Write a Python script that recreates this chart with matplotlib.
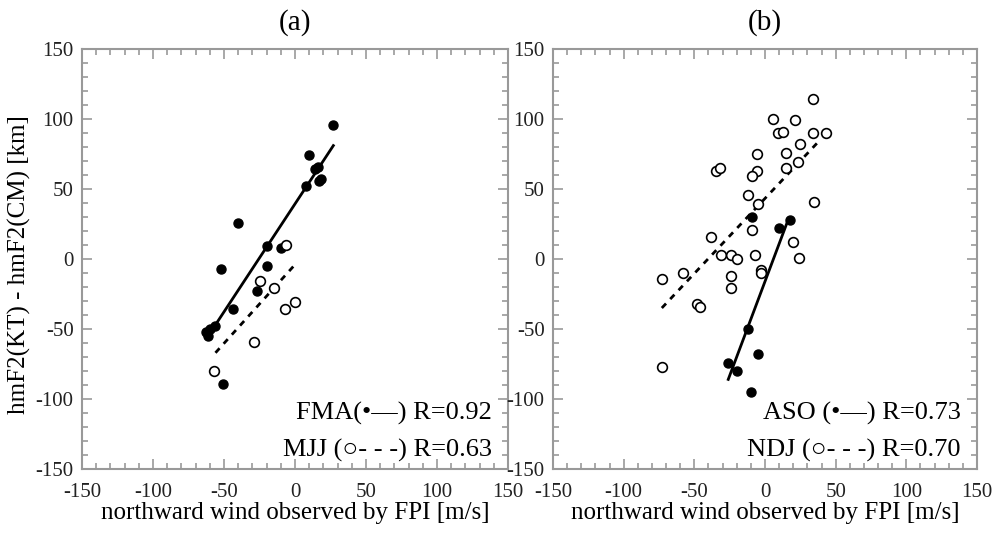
import numpy as np
import matplotlib
matplotlib.use("Agg")
import matplotlib.pyplot as plt
from matplotlib.ticker import MultipleLocator

plt.rcParams['font.family'] = ['Liberation Serif', 'DejaVu Sans']
plt.rcParams['axes.unicode_minus'] = False

# panel (a): FMA (filled) and MJJ (open)
fma_x = [27, 10, 14, 16, 17, 18, 8, -40, -20, -10, -52, -20, -27, -44, -63, -60, -56, -61, -51]
fma_y = [96, 74, 64, 66, 56, 57, 52, 26, 9, 8, -7, -5, -23, -36, -52, -50, -48, -55, -89]
mjj_x = [-6, -25, -15, 0, -7, -29, -57]
mjj_y = [10, -16, -21, -31, -36, -59, -80]

# panel (b): ASO (filled) and NDJ (open)
aso_x = [-9, 18, 10, -12, -5, -26, -20, -10]
aso_y = [30, 28, 22, -50, -68, -74, -80, -95]
ndj_x = [34, 6, 21, 9, 13, 34, 43, 25, -6, 15, -35, -32, -6, -9, 15, 23, -12, -5, 35,
         -9, 20, -38, -31, -24, -20, -7, 24, -3, -3, -58, -73, -24, -24, -48, -46, -73]
ndj_y = [114, 100, 99, 90, 91, 90, 90, 82, 75, 76, 63, 65, 63, 59, 65, 69, 46, 39, 41,
         21, 12, 16, 3, 3, 0, 3, 1, -8, -10, -10, -14, -12, -21, -32, -34, -77]

# regression lines as printed (end points)
fma_fit_x = [-56, 27]
fma_fit_y = [-47, 81]
mjj_fit_x = [-56, 0]
mjj_fit_y = [-67, -4]
aso_fit_x = [-26, 16]
aso_fit_y = [-86, 27]
ndj_fit_x = [-73, 38]
ndj_fit_y = [-35, 84]

labels_a = ["FMA(\u2022\u2014) R=0.92", "MJJ (\u25cb- - -) R=0.63"]
labels_b = ["ASO (\u2022\u2014) R=0.73", "NDJ (\u25cb- - -) R=0.70"]

fig = plt.figure(figsize=(9.92, 5.35), dpi=100)
ax1 = fig.add_axes([82/992, 1-469/535, 426/992, 420/535])
ax2 = fig.add_axes([553/992, 1-469/535, 424/992, 420/535])


def panel(ax, fx, fy, ox, oy, lf, lo, title, labels):
    ax.plot(fx, fy, 'o', ms=6.5, color='black', zorder=3)
    ax.plot(ox, oy, 'o', ms=7, mfc='white', mec='black', mew=1.2, zorder=3)
    ax.plot(lf[0], lf[1], color='black', lw=2.0, zorder=2)
    ax.plot(lo[0], lo[1], color='black', lw=2.0, ls=(0, (2.2, 2.2)), zorder=2)
    ax.set_xlim(-150, 150)
    ax.set_ylim(-150, 150)
    ax.xaxis.set_major_locator(MultipleLocator(50))
    ax.yaxis.set_major_locator(MultipleLocator(50))
    ax.xaxis.set_minor_locator(MultipleLocator(10))
    ax.yaxis.set_minor_locator(MultipleLocator(10))
    ax.tick_params(which='both', direction='in', top=True, right=True,
                   colors='#999999', labelcolor='#222222', labelsize=15, width=1.2)
    ax.tick_params(which='major', length=7, pad=6)
    ax.tick_params(axis='x', which='major', pad=10)
    ax.tick_params(which='minor', length=4)
    for s in ax.spines.values():
        s.set_color('#999999')
        s.set_linewidth(1.5)
    ax.set_title(title, fontsize=21, pad=14)
    ax.set_xlabel("northward wind observed by FPI [m/s]", fontsize=18, labelpad=0)
    ax.text(0.962, 0.133, labels[0], transform=ax.transAxes, ha='right', va='center', fontsize=19)
    ax.text(0.962, 0.045, labels[1], transform=ax.transAxes, ha='right', va='center', fontsize=19)


panel(ax1, fma_x, fma_y, mjj_x, mjj_y, (fma_fit_x, fma_fit_y), (mjj_fit_x, mjj_fit_y), "(a)", labels_a)
panel(ax2, aso_x, aso_y, ndj_x, ndj_y, (aso_fit_x, aso_fit_y), (ndj_fit_x, ndj_fit_y), "(b)", labels_b)
fig.text(19/992, 0.505, "hmF2(KT) - hmF2(CM) [km]", rotation=90, ha='center', va='center', fontsize=18)

fig.savefig("out.png", dpi=100)
